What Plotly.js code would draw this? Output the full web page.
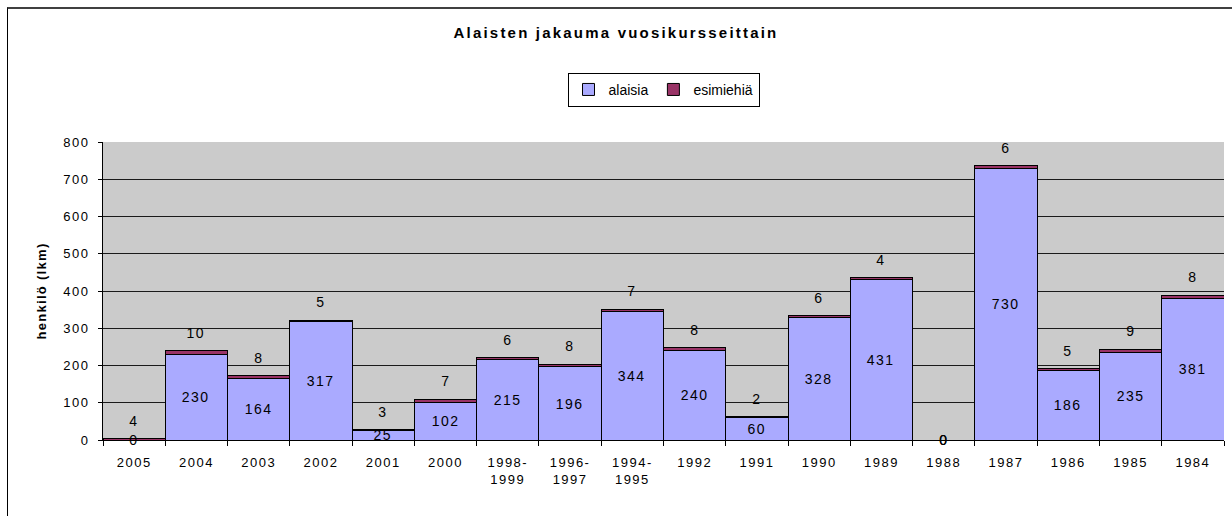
<!DOCTYPE html>
<html>
<head>
<meta charset="utf-8">
<script src="https://cdn.plot.ly/plotly-3.0.1.min.js"></script>
<style>
  html, body { margin: 0; padding: 0; background: #fff; }
  #wrap { position: relative; width: 1232px; height: 516px; overflow: hidden; }
  #chart { width: 1232px; height: 516px; }
  #chart text { letter-spacing: 1.5px; }
  #chart text.gtitle { letter-spacing: 2.2px; }
  #chart text.ytitle { letter-spacing: 1.3px; }
  #chart text.legendtext { letter-spacing: 0px; }
  #frame { position: absolute; left: 7px; top: 7px; width: 1240px; height: 520px;
           border-top: 2px solid #404040; border-left: 1px solid #000; pointer-events: none; }
</style>
</head>
<body>
<div id="wrap">
  <div id="chart"></div>
  <div id="frame"></div>
</div>
<script>
const categories = ["2005","2004","2003","2002","2001","2000","1998-<br>1999","1996-<br>1997","1994-<br>1995","1992","1991","1990","1989","1988","1987","1986","1985","1984"];
const alaisia   = [0,230,164,317,25,102,215,196,344,240,60,328,431,0,730,186,235,381];
const esimiehia = [4,10,8,5,3,7,6,8,7,8,2,6,4,0,6,5,9,8];

const FONT = '"Liberation Sans", Arial, sans-serif';

const traces = [
  {
    type: 'bar', name: 'alaisia', x: categories, y: alaisia,
    marker: { color: '#AAAAFF', line: { color: '#000', width: 1 } },
    hoverinfo: 'x+y'
  },
  {
    type: 'bar', name: 'esimiehiä', x: categories, y: esimiehia,
    marker: { color: '#993366', line: { color: '#000', width: 1 } },
    hoverinfo: 'x+y'
  }
];

const annotations = [];
categories.forEach((c, i) => {
  annotations.push({
    x: i, y: alaisia[i] / 2, xref: 'x', yref: 'y',
    text: String(alaisia[i]), showarrow: false,
    yanchor: 'middle', xanchor: 'center',
    font: { family: FONT, size: 14, color: '#000' }
  });
  annotations.push({
    x: i, y: alaisia[i] + esimiehia[i], xref: 'x', yref: 'y',
    text: String(esimiehia[i]), showarrow: false,
    yanchor: 'middle', xanchor: 'center',
    yshift: esimiehia[i] > 0 ? 18 : 0,
    font: { family: FONT, size: 14, color: '#000' }
  });
});

const layout = {
  width: 1232, height: 516,
  margin: { l: 103, r: 8, t: 142, b: 76, pad: 0 },
  paper_bgcolor: '#fff',
  plot_bgcolor: '#CBCBCB',
  barmode: 'stack',
  bargap: 0,
  font: { family: FONT, size: 12, color: '#000' },
  title: {
    text: '<b>Alaisten jakauma vuosikursseittain</b>',
    font: { family: FONT, size: 15, color: '#000' },
    x: 0.5, xref: 'container', xanchor: 'center',
    y: 1 - 33 / 516, yref: 'container', yanchor: 'middle'
  },
  showlegend: true,
  legend: {
    orientation: 'h', traceorder: 'normal',
    x: 0.5, xanchor: 'center', xref: 'paper',
    y: 1.232, yanchor: 'top',
    bgcolor: '#fff', bordercolor: '#000', borderwidth: 1,
    font: { family: FONT, size: 14, color: '#000' },
    itemwidth: 30, tracegroupgap: 0
  },
  xaxis: {
    type: 'category',
    range: [-0.5, categories.length - 0.5],
    showline: true, linecolor: '#000', linewidth: 1,
    ticks: 'outside', tickson: 'boundaries', ticklen: 5, tickcolor: '#000',
    tickangle: 0, ticklabelstandoff: 10,
    tickfont: { family: FONT, size: 13, color: '#000' },
    showgrid: false, zeroline: false, fixedrange: true
  },
  yaxis: {
    range: [0, 800], dtick: 100, tick0: 0,
    showline: true, linecolor: '#000', linewidth: 1,
    ticks: 'outside', ticklen: 4, tickcolor: '#000',
    ticklabelstandoff: 6,
    tickfont: { family: FONT, size: 13, color: '#000' },
    showgrid: true, gridcolor: '#1a1a1a', gridwidth: 1,
    zeroline: false,
    title: { text: '<b>henkilö (lkm)</b>', font: { family: FONT, size: 13, color: '#000' }, standoff: 18 },
    fixedrange: true
  },
  annotations: annotations
};

Plotly.newPlot('chart', traces, layout, { staticPlot: true, displayModeBar: false });
</script>
</body>
</html>
